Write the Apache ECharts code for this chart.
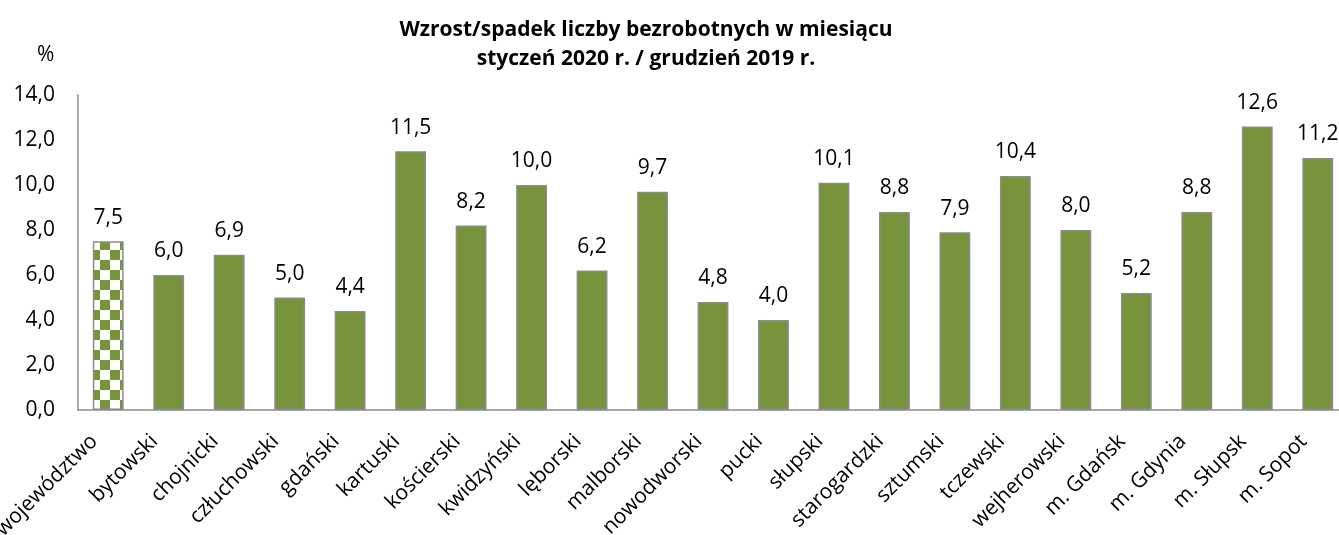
<!DOCTYPE html>
<html>
<head>
<meta charset="utf-8">
<script src="https://cdn.jsdelivr.net/npm/echarts@6/dist/echarts.min.js"></script>
<style>
  html, body { margin: 0; padding: 0; background: #fff; }
  #chart { width: 1339px; height: 535px; }
</style>
</head>
<body>
<div id="chart"></div>
<script>
const categories = ['województwo', 'bytowski', 'chojnicki', 'człuchowski', 'gdański', 'kartuski',
  'kościerski', 'kwidzyński', 'lęborski', 'malborski', 'nowodworski', 'pucki', 'słupski',
  'starogardzki', 'sztumski', 'tczewski', 'wejherowski', 'm. Gdańsk', 'm. Gdynia', 'm. Słupsk', 'm. Sopot'];
const values = [7.5, 6.0, 6.9, 5.0, 4.4, 11.5, 8.2, 10.0, 6.2, 9.7, 4.8, 4.0, 10.1, 8.8, 7.9, 10.4, 8.0, 5.2, 8.8, 12.6, 11.2];
const titleLines = ['Wzrost/spadek liczby bezrobotnych w miesiącu', 'styczeń 2020 r. / grudzień 2019 r.'];
const unitLabel = '%';

const green = '#77933C';
const font = '"Open Sans", sans-serif';
const fs = 21;

// checkerboard fill for the first bar (voivodeship total)
const tile = document.createElement('canvas');
tile.width = 20; tile.height = 20;
const tctx = tile.getContext('2d');
tctx.fillStyle = '#fff';
tctx.fillRect(0, 0, 20, 20);
tctx.fillStyle = green;
tctx.fillRect(0, 0, 10, 10);
tctx.fillRect(10, 10, 10, 10);

const fmt = v => v.toFixed(1).replace('.', ',');

const barData = values.map((v, i) => i === 0
  ? { value: v, itemStyle: { color: { image: tile, repeat: 'repeat' } } }
  : v);

const chart = echarts.init(document.getElementById('chart'), null, { renderer: 'canvas' });
chart.setOption({
  animation: false,
  textStyle: { fontFamily: font },
  title: {
    text: titleLines.join('\n'),
    left: 641,
    top: 11,
    textAlign: 'center',
    textStyle: { fontFamily: font, fontSize: 21, fontWeight: 'bold', color: '#000', lineHeight: 29 }
  },
  graphic: [{
    type: 'text',
    left: 37,
    top: 45,
    style: { text: unitLabel, font: fs + 'px ' + font, fill: '#000' }
  }],
  grid: { left: 78, right: -9, top: 95, bottom: 125, containLabel: false, outerBoundsMode: 'none' },
  xAxis: {
    type: 'category',
    data: categories,
    axisLine: { lineStyle: { color: '#8c8c8c', width: 1.5 } },
    axisTick: { show: false },
    axisLabel: { rotate: 45, interval: 0, margin: 14, padding: [0, 20, 0, 0], fontSize: fs, color: '#000', fontFamily: font }
  },
  yAxis: {
    type: 'value',
    min: 0, max: 14, interval: 2,
    axisLine: { show: true, lineStyle: { color: '#8c8c8c', width: 1.5 } },
    axisTick: { show: false },
    splitLine: { show: false },
    axisLabel: { margin: 23, fontSize: fs, color: '#000', fontFamily: font, formatter: fmt }
  },
  series: [{
    type: 'bar',
    data: barData,
    barWidth: '51%',
    itemStyle: { color: green, borderColor: '#8c8c8c', borderWidth: 1.5 },
    label: {
      show: true,
      position: 'top',
      distance: 13,
      fontSize: fs,
      color: '#000',
      fontFamily: font,
      formatter: p => fmt(p.value)
    }
  }]
});
</script>
</body>
</html>
